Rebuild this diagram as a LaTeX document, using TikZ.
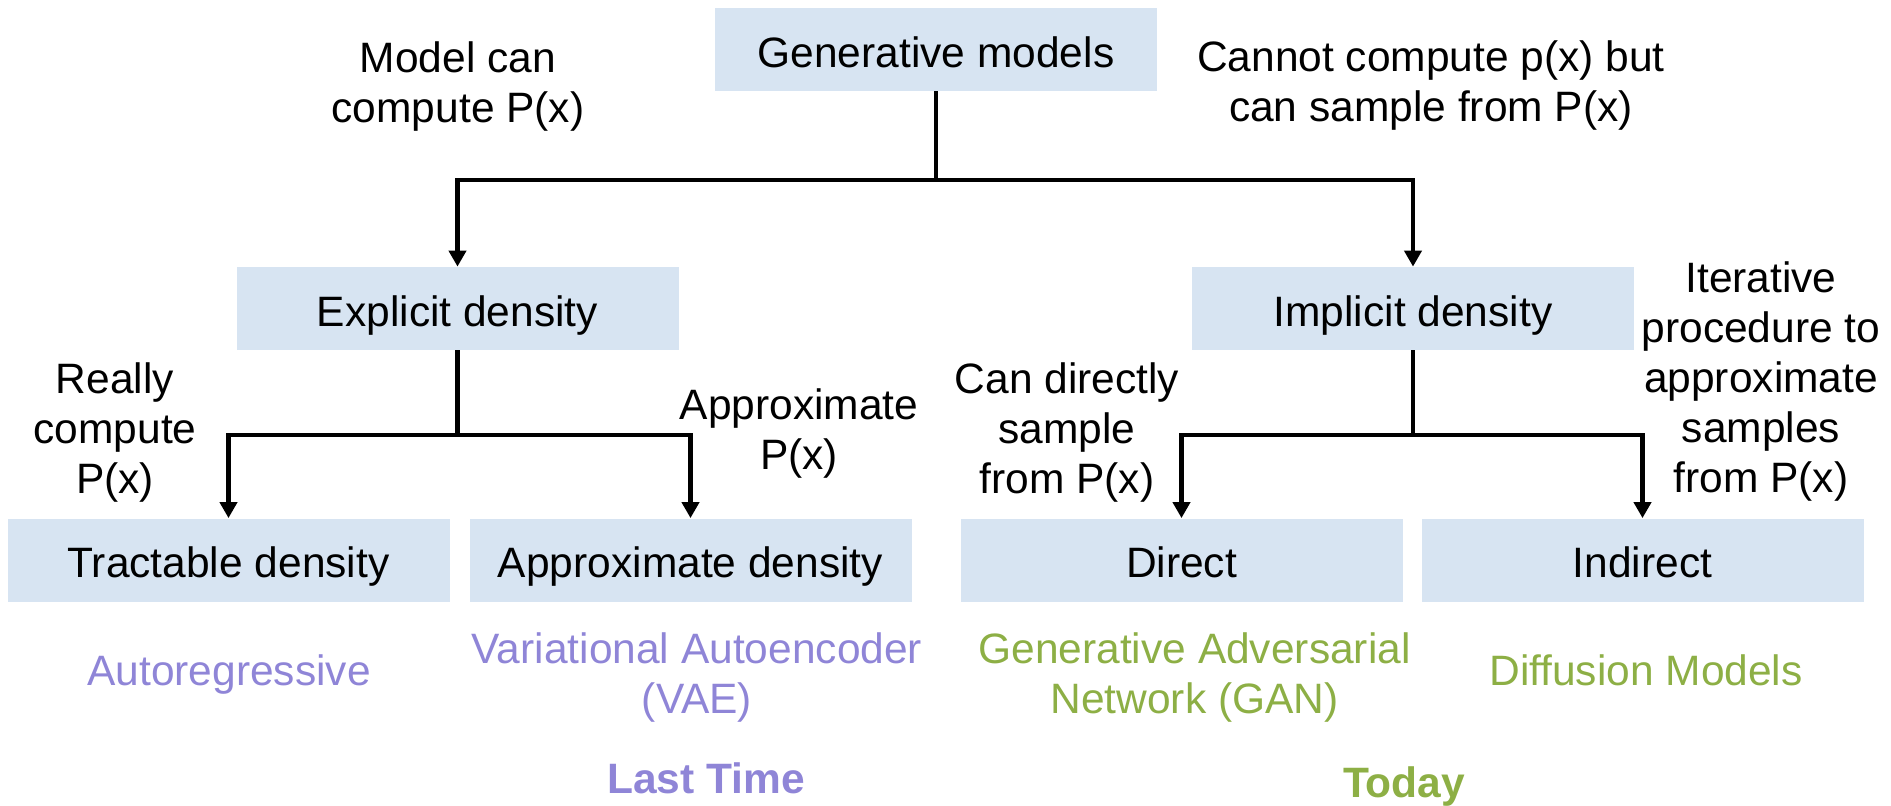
\documentclass[tikz,border=0pt]{standalone}
\usepackage{fontspec}
\setmainfont{Liberation Sans}
\usetikzlibrary{arrows.meta}
\definecolor{boxfill}{HTML}{D7E4F2}
\definecolor{lastcol}{HTML}{8F85D7}
\definecolor{todaycol}{HTML}{8DAF45}
\begin{document}
\begin{tikzpicture}[x=0.5pt,y=-0.5pt,
  every node/.style={font=\fontsize{21.25}{25}\selectfont, inner sep=0pt},
  catbox/.style={fill=boxfill, minimum width=221pt, minimum height=41.5pt,
                 text height=17.5pt, text depth=0pt},
  note/.style={align=center},
  lasttime/.style={text=lastcol, align=center},
  today/.style={text=todaycol, align=center},
  link/.style={line width=2.4pt, line join=miter},
  arrowlink/.style={link, -{Triangle[length=8pt,width=8.5pt]}}]
  \useasboundingbox (0,0) rectangle (1891,805);

  % category boxes
  \node[catbox] (gen)      at (936,49.5)   {Generative models};
  \node[catbox] (expl)     at (457.5,308.5) {Explicit density};
  \node[catbox] (impl)     at (1413,308.5)  {Implicit density};
  \node[catbox] (tract)    at (228.5,560)  {Tractable density};
  \node[catbox] (approx)   at (690.5,560)  {Approximate density};
  \node[catbox] (direct)   at (1181.5,560) {Direct};
  \node[catbox] (indirect) at (1642.5,560) {Indirect};

  % branch points of the tree
  \coordinate (busA) at (936,180);
  \coordinate (busB) at (457.5,435);
  \coordinate (busC) at (1413,435);

  % tree connectors
  \draw[link] (gen.south) -- (busA);
  \draw[arrowlink] (busA) -| (expl.north);
  \draw[arrowlink] (busA) -| (impl.north);
  \draw[link] (expl.south) -- (busB);
  \draw[arrowlink] (busB) -| (tract.north);
  \draw[arrowlink] (busB) -| (approx.north);
  \draw[link] (impl.south) -- (busC);
  \draw[arrowlink] (busC) -| (direct.north);
  \draw[arrowlink] (busC) -| (indirect.north);

  % branch annotations
  \node[note] (n1) at (458,87)    {Model can\\compute P(x)};
  \node[note] (n2) at (1431,85.5) {Cannot compute p(x) but\\can sample from P(x)};
  \node[note] (n3) at (115,432)   {Really\\compute\\P(x)};
  \node[note] (n4) at (799,433)   {Approximate\\P(x)};
  \node[note] (n5) at (1067,432.5) {Can directly\\sample\\from P(x)};
  \node[note] (n6) at (1761,381)  {Iterative\\procedure to\\approximate\\samples\\from P(x)};

  % model families
  \node[lasttime, anchor=base] (ar)  at (229,685)    {Autoregressive};
  \node[lasttime]             (vae) at (697,677.5)  {Variational Autoencoder\\(VAE)};
  \node[today]                (gan) at (1194.5,677) {Generative Adversarial\\Network (GAN)};
  \node[today, anchor=base]   (dm)  at (1646,685)   {Diffusion Models};

  % lecture tags
  \node[lasttime, anchor=base] (lt) at (706,793)  {\bfseries Last Time};
  \node[today, anchor=base]    (td) at (1404,797) {\bfseries Today};
\end{tikzpicture}
\end{document}
